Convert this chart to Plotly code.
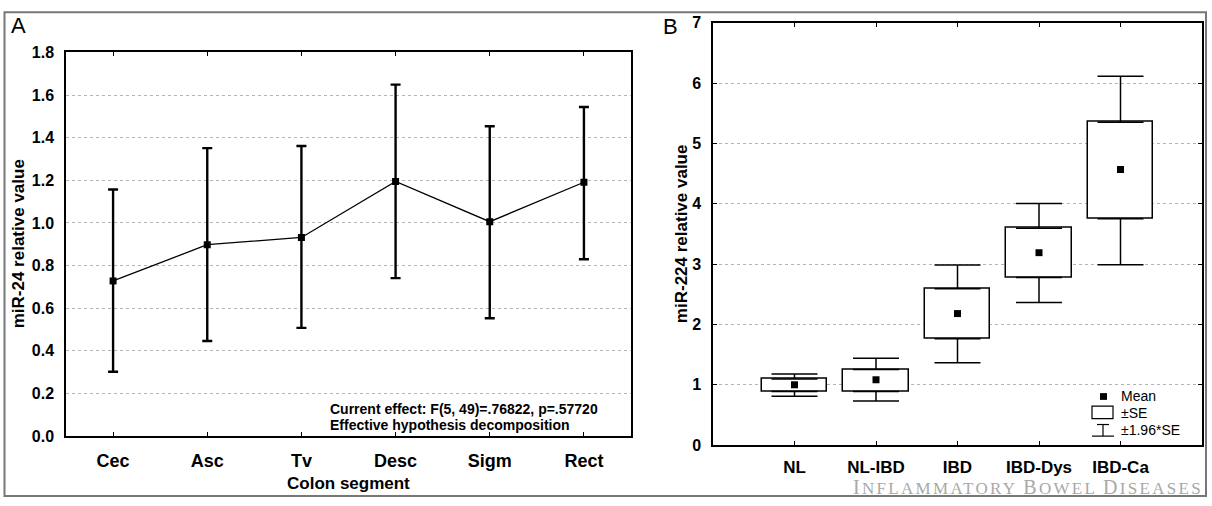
import plotly.graph_objects as go

# ---------------- data ----------------
segments = ["Cec", "Asc", "Tv", "Desc", "Sigm", "Rect"]
mir24_mean = [0.728, 0.898, 0.932, 1.195, 1.006, 1.191]
mir24_upper = [1.157, 1.351, 1.361, 1.649, 1.454, 1.544]
mir24_lower = [0.302, 0.446, 0.508, 0.741, 0.553, 0.830]

groups = ["NL", "NL-IBD", "IBD", "IBD-Dys", "IBD-Ca"]
mir224_mean = [1.00, 1.083, 2.18, 3.19, 4.567]
mir224_se_hi = [1.095, 1.255, 2.59, 3.595, 5.353]
mir224_se_lo = [0.89, 0.89, 1.763, 2.777, 3.75]
mir224_ci_hi = [1.18, 1.44, 2.986, 4.006, 6.115]
mir224_ci_lo = [0.81, 0.73, 1.367, 2.365, 2.99]

mir24_ticks = [0.0, 0.2, 0.4, 0.6, 0.8, 1.0, 1.2, 1.4, 1.6, 1.8]
mir224_ticks = [0, 1, 2, 3, 4, 5, 6, 7]

# ---------------- geometry helpers ----------------
W, H = 1212, 506
def px(x):
    return x / W
def py(y):
    return 1 - y / H

FONT = "Liberation Sans, Arial, sans-serif"
NARROW = "Liberation Sans Narrow, Arial Narrow, Liberation Sans, Arial, sans-serif"

fig = go.Figure()

# ---- Panel A ----
fig.add_trace(go.Scatter(
    x=segments, y=mir24_mean, mode="lines+markers",
    line=dict(color="black", width=1.3),
    marker=dict(symbol="square", size=7, color="black"),
    error_y=dict(type="data", symmetric=False,
                 array=[u - m for u, m in zip(mir24_upper, mir24_mean)],
                 arrayminus=[m - l for m, l in zip(mir24_mean, mir24_lower)],
                 color="black", thickness=2.4, width=5),
    xaxis="x", yaxis="y", showlegend=False))

# ---- Panel B ----
fig.add_trace(go.Bar(
    x=groups, y=[h - l for h, l in zip(mir224_se_hi, mir224_se_lo)],
    base=mir224_se_lo, width=0.8,
    marker=dict(color="white", line=dict(color="black", width=1.5)),
    xaxis="x2", yaxis="y2", showlegend=False))
fig.add_trace(go.Scatter(
    x=groups, y=mir224_se_hi, mode="markers",
    marker=dict(size=1, color="rgba(0,0,0,0)"),
    error_y=dict(type="data", symmetric=False,
                 array=[c - s for c, s in zip(mir224_ci_hi, mir224_se_hi)],
                 arrayminus=[0] * len(groups),
                 color="black", thickness=1.5, width=23),
    xaxis="x2", yaxis="y2", showlegend=False))
fig.add_trace(go.Scatter(
    x=groups, y=mir224_se_lo, mode="markers",
    marker=dict(size=1, color="rgba(0,0,0,0)"),
    error_y=dict(type="data", symmetric=False,
                 array=[0] * len(groups),
                 arrayminus=[s - c for s, c in zip(mir224_se_lo, mir224_ci_lo)],
                 color="black", thickness=1.5, width=23),
    xaxis="x2", yaxis="y2", showlegend=False))
fig.add_trace(go.Scatter(
    x=groups, y=mir224_mean, mode="markers",
    marker=dict(symbol="square", size=7, color="black"),
    xaxis="x2", yaxis="y2", showlegend=False))

grid = dict(showgrid=True, gridcolor="#b4b4b4", griddash="dot", gridwidth=1)

fig.update_layout(
    width=W, height=H, margin=dict(l=0, r=0, t=0, b=0),
    paper_bgcolor="white", plot_bgcolor="white",
    font=dict(family=FONT, color="black"),
    bargap=0,
    xaxis=dict(domain=[px(66), px(631)], anchor="y", type="category",
               range=[-0.5, 5.5], showline=True, linecolor="black", linewidth=1.5,
               mirror="ticks", ticks="inside", ticklen=4, tickcolor="black",
               tickfont=dict(size=18, family=FONT, weight="bold"),
               ticklabelstandoff=8, showgrid=False, zeroline=False),
    yaxis=dict(domain=[py(443), py(46)], anchor="x", range=[0, 1.8],
               tickvals=mir24_ticks, tickformat=".1f",
               showline=True, linecolor="black", linewidth=1.5, mirror=True,
               ticks="", tickfont=dict(size=16, family=FONT, weight="bold"),
               ticklabelstandoff=7, zeroline=False, **grid),
    xaxis2=dict(domain=[px(713), px(1202)], anchor="y2", type="category",
                range=[-1, 5], showline=True, linecolor="black", linewidth=1.5,
                mirror="ticks", ticks="inside", ticklen=4, tickcolor="black",
                tickfont=dict(size=17, family=FONT, weight="bold"),
                ticklabelstandoff=6, showgrid=False, zeroline=False),
    yaxis2=dict(domain=[py(452.3), py(15.3)], anchor="x2", range=[0, 7],
                tickvals=mir224_ticks,
                showline=True, linecolor="black", linewidth=1.5, mirror="ticks",
                ticks="inside", ticklen=4, tickcolor="black",
                tickfont=dict(size=16, family=FONT, weight="bold"),
                ticklabelstandoff=7, zeroline=False, **grid),
)

annots = []
def txt(text, x, y, size, bold=True, xanchor="center", yanchor="middle", angle=0,
        family=FONT, color="black"):
    annots.append(dict(text=text, x=px(x), y=py(y), xref="paper", yref="paper",
                       xanchor=xanchor, yanchor=yanchor, showarrow=False,
                       textangle=angle,
                       font=dict(size=size, family=family, color=color,
                                 weight="bold" if bold else "normal")))

txt("A", 9, 18, 22, bold=False, xanchor="left")
txt("B", 661, 19, 22, bold=False, xanchor="left")
txt("miR-24 relative value", 18, 244.5, 17, angle=-90)
txt("Colon segment", 348, 492, 17)
txt("miR-224 relative value", 681, 234, 17, angle=-90)
txt("Current effect: F(5, 49)=.76822, p=.57720", 328, 415, 14, xanchor="left", family=NARROW)
txt("Effective hypothesis decomposition", 328, 432, 14, xanchor="left", family=NARROW)
# legend texts
txt("Mean", 1119, 402, 14, bold=False, xanchor="left")
txt("±SE", 1119, 419, 14, bold=False, xanchor="left")
txt("±1.96*SE", 1119, 437, 14, bold=False, xanchor="left")
# journal watermark
big = '<span style="font-size:20px">%s</span>'
wm = ('<span style="letter-spacing:2.3px">' + (big % "I") + "NFLAMMATORY " + (big % "B")
      + "OWEL " + (big % "D") + "ISEASES</span>")
annots.append(dict(text=wm, x=px(1205), y=py(496), xref="paper", yref="paper",
                   xanchor="right", yanchor="middle", showarrow=False,
                   font=dict(size=17, family="Liberation Serif, DejaVu Serif, serif",
                             color="#a8a8a8")))
fig.update_layout(annotations=annots)

shapes = []
# outer frame
shapes.append(dict(type="rect", xref="paper", yref="paper",
                   x0=px(4.5), x1=px(1206), y0=py(505), y1=py(4.5),
                   line=dict(color="#777777", width=2)))
# legend icons (panel B)
shapes.append(dict(type="rect", xref="paper", yref="paper",
                   x0=px(1100), x1=px(1107), y0=py(405.5), y1=py(398.5),
                   fillcolor="black", line=dict(width=0)))
shapes.append(dict(type="rect", xref="paper", yref="paper",
                   x0=px(1092), x1=px(1113), y0=py(425), y1=py(412),
                   line=dict(color="black", width=1.2)))
shapes.append(dict(type="line", xref="paper", yref="paper",
                   x0=px(1097), x1=px(1109), y0=py(431), y1=py(431),
                   line=dict(color="black", width=1.2)))
shapes.append(dict(type="line", xref="paper", yref="paper",
                   x0=px(1103), x1=px(1103), y0=py(431), y1=py(443),
                   line=dict(color="black", width=1.2)))
shapes.append(dict(type="line", xref="paper", yref="paper",
                   x0=px(1092), x1=px(1114), y0=py(443), y1=py(443),
                   line=dict(color="black", width=1.2)))
fig.update_layout(shapes=shapes)

fig.write_html("out.html")
